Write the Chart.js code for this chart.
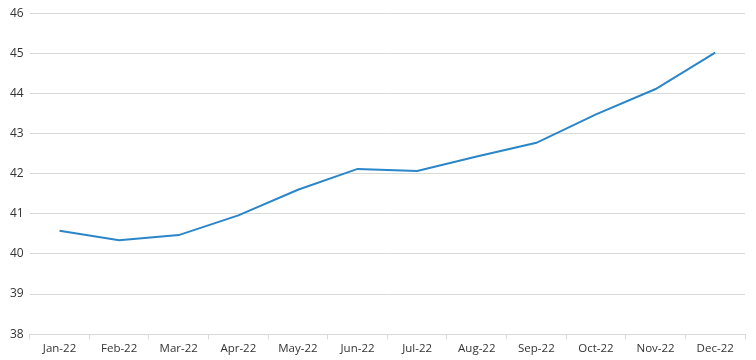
<!DOCTYPE html>
<html>
<head>
<meta charset="utf-8">
<script src="https://cdn.jsdelivr.net/npm/chart.js@4/dist/chart.umd.min.js"></script>
<style>
html,body{margin:0;padding:0;background:#fff;}
#wrap{width:756px;height:360px;}
</style>
</head>
<body>
<div id="wrap"><canvas id="c" width="756" height="360"></canvas></div>
<script>
const categories = ["Jan-22","Feb-22","Mar-22","Apr-22","May-22","Jun-22","Jul-22","Aug-22","Sep-22","Oct-22","Nov-22","Dec-22"];
const seriesValues = [40.58, 40.34, 40.47, 40.96, 41.60, 42.12, 42.07, 42.43, 42.77, 43.48, 44.11, 45.02];
const yTicks = [38, 39, 40, 41, 42, 43, 44, 45, 46];

new Chart(document.getElementById('c'), {
  type: 'line',
  data: {
    labels: categories,
    datasets: [{
      data: seriesValues,
      borderColor: '#2a86c9',
      borderWidth: 2,
      pointRadius: 0,
      tension: 0,
      fill: false
    }]
  },
  options: {
    responsive: false,
    animation: false,
    layout: { padding: { top: 2, right: 11, left: 4, bottom: 1 } },
    plugins: { legend: { display: false }, tooltip: { enabled: false } },
    scales: {
      x: {
        offset: true,
        grid: { offset: true, drawOnChartArea: false, drawTicks: true, tickLength: 5, color: '#d9d9d9' },
        border: { color: '#d9d9d9', width: 1 },
        ticks: { color: '#333', font: { family: 'Open Sans', size: 11.5 }, padding: 3, maxRotation: 0 }
      },
      y: {
        min: yTicks[0],
        max: yTicks[yTicks.length - 1],
        afterBuildTicks: (axis) => { axis.ticks = yTicks.map(v => ({ value: v })); },
        grid: { color: '#d9d9d9', drawTicks: false },
        border: { display: false },
        ticks: { color: '#333', font: { family: 'Open Sans', size: 12 }, padding: 6 }
      }
    }
  }
});
</script>
</body>
</html>
